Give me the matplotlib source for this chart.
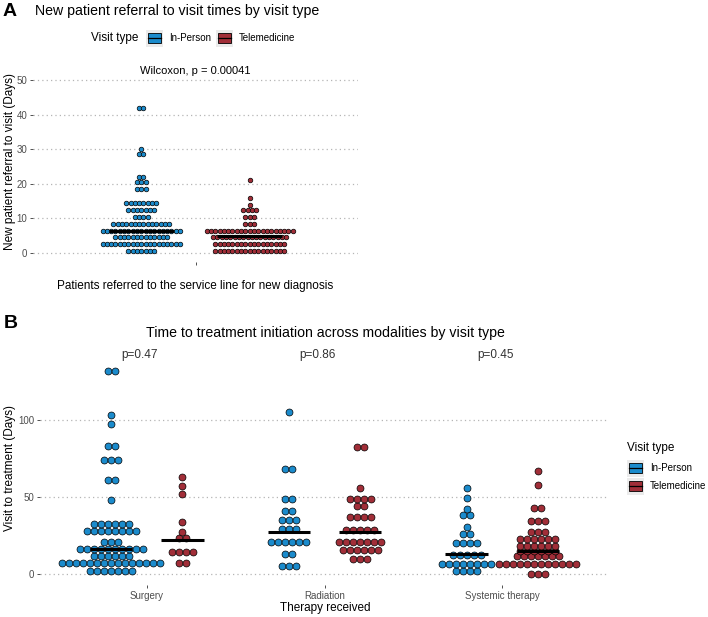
import numpy as np
import matplotlib
matplotlib.use("Agg")
import matplotlib.pyplot as plt
from matplotlib.patches import Rectangle
from matplotlib.lines import Line2D

plt.rcParams["font.family"] = ["Liberation Sans", "DejaVu Sans"]

# ===== data: dot stacks (bin centre, number of dots) =====
# panel A: referral -> visit (days)
a_inperson_vals = [0.5, 2.5, 4.5, 6.5, 8.5, 10.5, 12.5, 14.5, 18.5, 20.5, 22, 28.5, 30, 42]
a_inperson_counts = [7, 19, 13, 19, 14, 4, 7, 8, 3, 3, 2, 2, 1, 2]
a_tele_vals = [0.5, 2.5, 4.5, 6.5, 8.5, 10.5, 12.5, 14, 16, 21]
a_tele_counts = [17, 17, 18, 21, 3, 3, 4, 1, 1, 1]
a_medians = [6.5, 5.0]
a_pvalue = "Wilcoxon, p = 0.00041"

# panel B: visit -> treatment (days)
therapies = ["Surgery", "Radiation", "Systemic therapy"]
b_pvalues = ["p=0.47", "p=0.86", "p=0.45"]

surg_ip_vals = [2.2, 7.1, 11.5, 16.5, 21, 28, 32.5, 48, 61, 74, 83, 97, 103, 131.5]
surg_ip_counts = [7, 15, 6, 10, 3, 8, 6, 1, 2, 3, 2, 1, 1, 2]
surg_tm_vals = [7.3, 14.5, 23.5, 27.2, 34, 52, 57, 63]
surg_tm_counts = [2, 4, 2, 1, 1, 1, 1, 1]

rad_ip_vals = [5.5, 13, 21, 29.2, 35, 41, 48.5, 68, 105]
rad_ip_counts = [3, 2, 6, 3, 3, 2, 2, 2, 1]
rad_tm_vals = [10, 15.7, 20.7, 28.7, 36.9, 44, 48.5, 56, 82.5]
rad_tm_counts = [3, 6, 7, 5, 4, 2, 4, 1, 2]

sys_ip_vals = [2, 6.5, 12.7, 20, 26.3, 30.3, 38.6, 42, 49, 56]
sys_ip_counts = [4, 8, 5, 4, 2, 1, 2, 1, 1, 1]
sys_tm_vals = [0.4, 6.8, 11.6, 15, 18.1, 22.5, 27.1, 34.6, 42.5, 58, 66.8]
sys_tm_counts = [3, 12, 7, 6, 6, 6, 3, 3, 2, 1, 1]

b_medians_ip = [16, 27.5, 13]
b_medians_tm = [22, 27.5, 15]

BLUE = "#1B8BCC"
RED = "#A12E38"
GREY_TXT = "#4D4D4D"
W, H = 708, 617


def frac(x, y):
    return x / W, 1 - y / H


def axes_px(x0, y0, x1, y1):
    return fig.add_axes([x0 / W, 1 - y1 / H, (x1 - x0) / W, (y1 - y0) / H])


def dots(ax, x0, vals, counts, pitch, color, s):
    for v, n in zip(vals, counts):
        offs = (np.arange(n) - (n - 1) / 2) * pitch
        ax.scatter(x0 + offs, np.full(n, v), s=s, c=color, edgecolors="black",
                   linewidths=0.5, zorder=3)


def style(ax):
    for sp in ax.spines.values():
        sp.set_visible(False)
    ax.yaxis.grid(True, color="#B5B5B5", linestyle=(0, (1, 2.5)), linewidth=0.9)
    ax.xaxis.grid(False)
    ax.set_axisbelow(True)
    ax.tick_params(length=2.5, width=0.6, color="#333333", labelcolor=GREY_TXT,
                   labelsize=7, pad=1.5)


def legend_key(kx, ky, col):
    # grey key background, filled box and the crossbar line
    fig.patches.append(Rectangle(frac(kx, ky + 8.5), 17 / W, 17 / H,
                                 transform=fig.transFigure, facecolor="#EBEBEB",
                                 edgecolor="none"))
    fig.patches.append(Rectangle(frac(kx + 2, ky + 5), 13 / W, 10 / H,
                                 transform=fig.transFigure, facecolor=col,
                                 edgecolor="black", linewidth=0.6))
    fig.lines.append(Line2D([(kx + 2) / W, (kx + 15) / W], [1 - ky / H, 1 - ky / H],
                            transform=fig.transFigure, color="black", lw=0.9))


fig = plt.figure(figsize=(7.08, 6.17), dpi=100)

# ===== Panel A =====
axA = axes_px(33, 60, 358, 262)
style(axA)
axA.set_xlim(0.4, 1.6)
axA.set_ylim(-2.6, 55.8)
axA.set_yticks([0, 10, 20, 30, 40, 50])
axA.set_xticks([1])
axA.set_xticklabels([""])
dots(axA, 0.8, a_inperson_vals, a_inperson_counts, 0.0159, BLUE, 11)
dots(axA, 1.2, a_tele_vals, a_tele_counts, 0.0159, RED, 11)
for xc, m in zip([0.8, 1.2], a_medians):
    axA.plot([xc - 0.12, xc + 0.12], [m, m], color="black", lw=2.2, zorder=4,
             solid_capstyle="butt")
axA.text(1.0, 52.7, a_pvalue, ha="center", va="center", fontsize=8)

fig.text(*frac(3, 11), "A", fontsize=14, fontweight="bold", ha="left", va="center")
fig.text(*frac(35, 11), "New patient referral to visit times by visit type",
         fontsize=10.2, ha="left", va="center")
fig.text(*frac(10, 162), "New patient referral to visit (Days)", rotation=90,
         fontsize=8.5, ha="center", va="center")
fig.text(*frac(195, 286), "Patients referred to the service line for new diagnosis",
         fontsize=8.5, ha="center", va="center")

# legend A (top)
fig.text(*frac(91, 38), "Visit type", fontsize=8.5, ha="left", va="center")
for kx, lab, col in [(146, "In-Person", BLUE), (216, "Telemedicine", RED)]:
    legend_key(kx, 38, col)
    fig.text(*frac(kx + 23, 38), lab, fontsize=7, ha="left", va="center")

# ===== Panel B =====
axB = axes_px(40, 344, 609, 585)
style(axB)
axB.set_xlim(0.4, 3.6)
axB.set_ylim(-7.0, 148.9)
axB.set_yticks([0, 50, 100])
axB.set_xticks([1, 2, 3])
axB.set_xticklabels(therapies)
groups = [(surg_ip_vals, surg_ip_counts, surg_tm_vals, surg_tm_counts),
          (rad_ip_vals, rad_ip_counts, rad_tm_vals, rad_tm_counts),
          (sys_ip_vals, sys_ip_counts, sys_tm_vals, sys_tm_counts)]
for i, (iv, ic, tv, tc) in enumerate(groups):
    xc = i + 1
    dots(axB, xc - 0.2, iv, ic, 0.0394, BLUE, 25)
    dots(axB, xc + 0.2, tv, tc, 0.0394, RED, 25)
    for xo, m in [(xc - 0.2, b_medians_ip[i]), (xc + 0.2, b_medians_tm[i])]:
        axB.plot([xo - 0.12, xo + 0.12], [m, m], color="black", lw=2.2, zorder=4,
                 solid_capstyle="butt")
    axB.text(xc - 0.04, 141.8, b_pvalues[i], ha="center", va="center", fontsize=8.5,
             color="#333333")

fig.text(*frac(4, 323), "B", fontsize=14, fontweight="bold", ha="left", va="center")
fig.text(*frac(325, 333), "Time to treatment initiation across modalities by visit type",
         fontsize=10.2, ha="center", va="center")
fig.text(*frac(10, 468), "Visit to treatment (Days)", rotation=90,
         fontsize=8.5, ha="center", va="center")
fig.text(*frac(325, 608), "Therapy received", fontsize=8.5, ha="center", va="center")

# legend B (right)
fig.text(*frac(627, 448), "Visit type", fontsize=8.5, ha="left", va="center")
for ky, lab, col in [(468, "In-Person", BLUE), (486, "Telemedicine", RED)]:
    legend_key(627, ky, col)
    fig.text(*frac(650, ky), lab, fontsize=7, ha="left", va="center")

fig.savefig("out.png", dpi=100)
